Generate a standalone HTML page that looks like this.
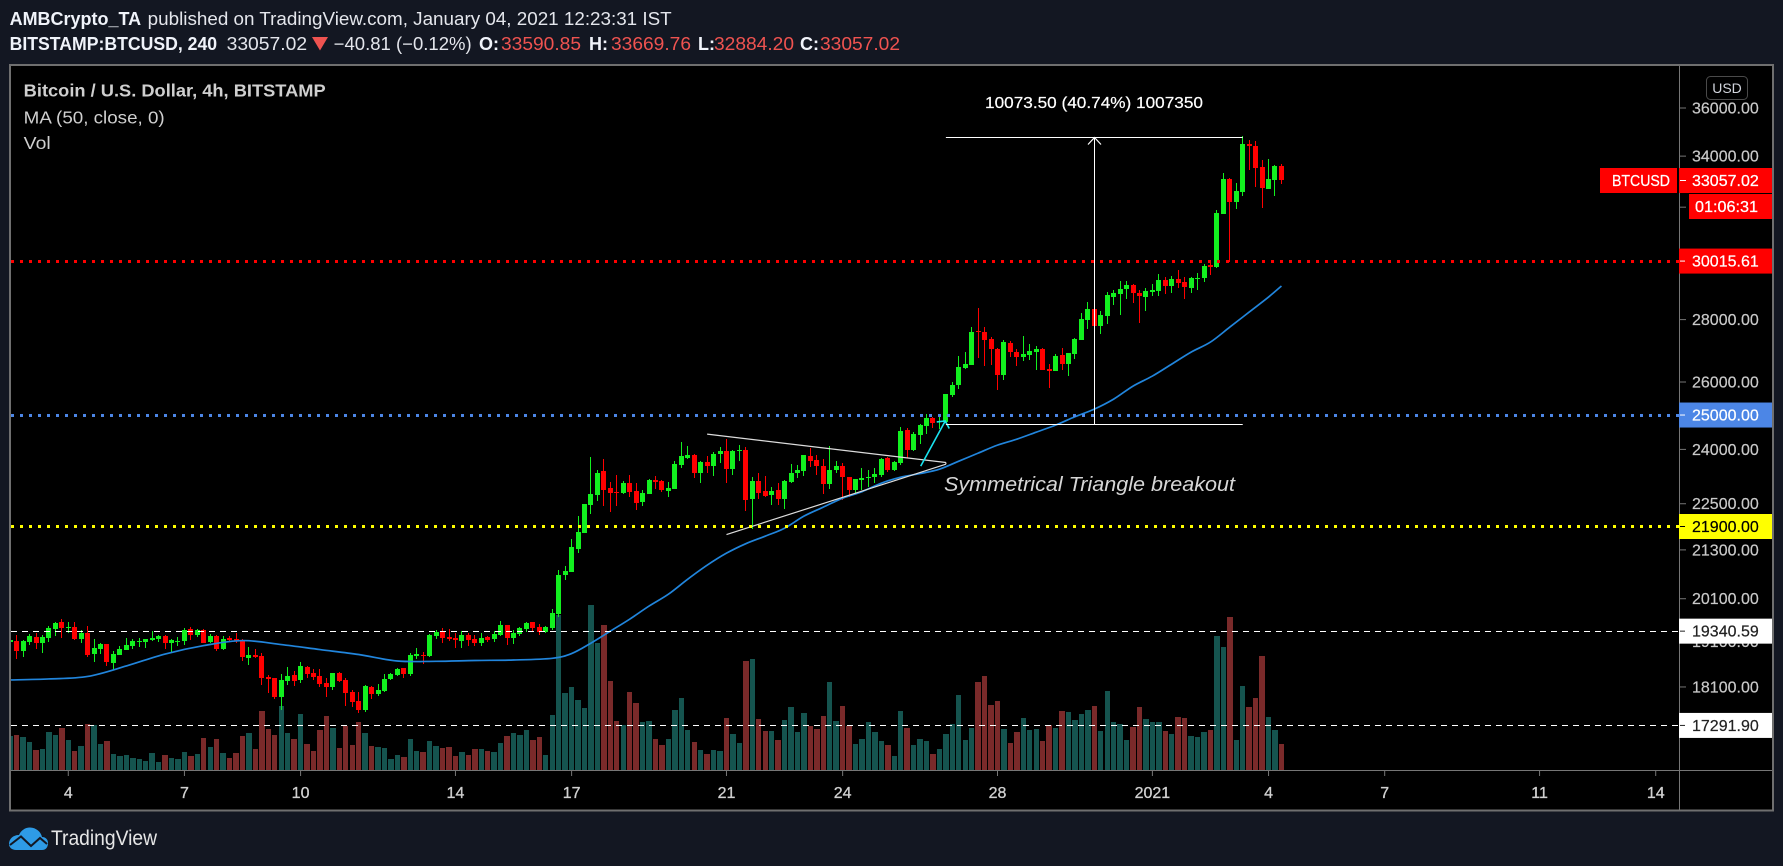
<!DOCTYPE html>
<html lang="en">
<head>
<meta charset="utf-8">
<title>BTCUSD chart</title>
<style>
html,body{margin:0;padding:0;background:#131722;width:1783px;height:866px;overflow:hidden}
svg{display:block}
text{font-family:"Liberation Sans",sans-serif}
</style>
</head>
<body>
<svg id="root" xmlns="http://www.w3.org/2000/svg" width="1783" height="866" viewBox="0 0 1783 866">
  <defs>
    <clipPath id="plot-clip"><rect x="11" y="66" width="1668" height="704"/></clipPath>
  </defs>
  <rect x="0" y="0" width="1783" height="866" fill="#131722"/>
  <g font-size="18" fill="#f0f3fa">
    <text x="9.6" y="25" font-weight="bold" textLength="131.5" lengthAdjust="spacingAndGlyphs">AMBCrypto_TA</text>
    <text x="147.7" y="25" fill="#e4e6ec" textLength="524" lengthAdjust="spacingAndGlyphs">published on TradingView.com, January 04, 2021 12:23:31 IST</text>
    <text x="9.6" y="50" font-weight="bold" textLength="207.5" lengthAdjust="spacingAndGlyphs">BITSTAMP:BTCUSD, 240</text>
    <text x="226.6" y="50" fill="#e4e6ec" textLength="80.5" lengthAdjust="spacingAndGlyphs">33057.02</text>
    <polygon points="312,37 328,37 320,50.5" fill="#ef5350"/>
    <text x="333.7" y="50" fill="#e4e6ec" textLength="138" lengthAdjust="spacingAndGlyphs">−40.81 (−0.12%)</text>
    <text x="479" y="50" font-weight="bold">O:</text>
    <text x="501" y="50" fill="#ef5350" textLength="80" lengthAdjust="spacingAndGlyphs">33590.85</text>
    <text x="589" y="50" font-weight="bold">H:</text>
    <text x="611" y="50" fill="#ef5350" textLength="80" lengthAdjust="spacingAndGlyphs">33669.76</text>
    <text x="698" y="50" font-weight="bold">L:</text>
    <text x="714" y="50" fill="#ef5350" textLength="80" lengthAdjust="spacingAndGlyphs">32884.20</text>
    <text x="800" y="50" font-weight="bold">C:</text>
    <text x="820" y="50" fill="#ef5350" textLength="80" lengthAdjust="spacingAndGlyphs">33057.02</text>
  </g>
  <rect x="10" y="65" width="1763" height="745.5" fill="#000" stroke="#6f6f6f" stroke-width="2"/>
  <g id="volume-layer" clip-path="url(#plot-clip)" shape-rendering="crispEdges"></g>
  <g id="candle-layer" clip-path="url(#plot-clip)" shape-rendering="crispEdges"></g>
  <path id="ma-line" fill="none" stroke="#2185dc" stroke-width="1.7" stroke-linejoin="round" clip-path="url(#plot-clip)"/>
  <g id="annotation-layer"></g>
  <line x1="1679.5" y1="66" x2="1679.5" y2="810" stroke="#767676" stroke-width="1"/>
  <line x1="11" y1="770.5" x2="1772" y2="770.5" stroke="#767676" stroke-width="1"/>
  <g id="price-axis"></g>
  <g id="time-axis"></g>
  <g id="price-lines"></g>
  <g font-size="16" fill="#fff" stroke="#fff" stroke-width="0.25">
    <rect x="1600" y="168" width="77" height="25" fill="#ff0000" stroke="none"/>
    <text x="1612" y="186" textLength="58" lengthAdjust="spacingAndGlyphs">BTCUSD</text>
    <rect x="1679" y="168" width="93" height="25" fill="#ff0000" stroke="none"/>
    <line x1="1680" y1="180.5" x2="1686" y2="180.5" stroke="#fff" stroke-width="1"/>
    <text x="1692" y="186">33057.02</text>
    <rect x="1689" y="194" width="83" height="25" fill="#ff0000" stroke="none"/>
    <text x="1695" y="212" textLength="63" lengthAdjust="spacingAndGlyphs">01:06:31</text>
  </g>
  <g>
    <rect x="1706.5" y="76.5" width="41" height="23" rx="4" fill="#000" stroke="#4a4a4a"/>
    <text x="1727" y="93" font-size="14" fill="#d1d4dc" text-anchor="middle">USD</text>
  </g>
  <g fill="#cfcfcf" font-size="17.5">
    <text x="23.7" y="96.7" font-weight="bold" textLength="302" lengthAdjust="spacingAndGlyphs">Bitcoin / U.S. Dollar, 4h, BITSTAMP</text>
    <text x="23.7" y="123.3" textLength="141" lengthAdjust="spacingAndGlyphs">MA (50, close, 0)</text>
    <text x="23.7" y="149" textLength="27" lengthAdjust="spacingAndGlyphs">Vol</text>
  </g>
  <g>
    <path d="M15 850h27c4 0 6-3 6-7 0-3-2-6-6-6-1-5-6-9.500-12-9.500-5 0-9 3-11 7.500-6 0-10 4-10 9 0 3.500 3 6 7 6z" fill="#2e9be6"/>
    <path d="M10 845L21 836.500L31 846L40 838L47 844" fill="none" stroke="#131722" stroke-width="2"/>
    <text x="51" y="845" font-size="21" fill="#e6e6e6" textLength="106" lengthAdjust="spacingAndGlyphs">TradingView</text>
  </g>
</svg>
<script>
const opens=[19094,19109,18891,19094,19208,19071,19185,19391,19553,19414,
19437,19162,19299,18824,18936,19049,18624,18802,18913,19004,
19086,19094,19139,19162,19231,19071,19094,19116,19391,19253,
19368,19094,19231,18936,19185,19162,19139,18735,18802,18779,
18316,18295,17886,18230,18360,18251,18536,18404,18338,18186,
18100,18404,18251,17993,17801,17612,18100,17950,18014,18273,
18360,18514,18382,18779,18802,18779,19231,19322,19208,19185,
19116,19253,19162,19071,19208,19162,19253,19484,19185,19276,
19391,19553,19437,19322,19414,19733,20669,20743,21317,21727,
22462,22731,23387,22921,22812,22785,23057,22839,22542,22758,
23139,23112,22839,22893,23556,23752,23837,23332,23640,23527,
23865,23950,23443,23950,23979,22623,23112,22839,22731,22866,
22623,23084,23332,23387,23809,23695,23527,23030,23415,23527,
23222,22866,23139,23194,23222,23277,23752,23415,23611,24555,
23979,24409,24673,24909,24790,24790,25599,25905,26433,26527,
27621,27589,27360,27036,26214,27230,26940,26781,26845,26940,
27036,26401,26339,26845,26559,26877,27327,27985,28353,27786,
28119,28760,28863,29035,29174,28897,28760,28932,28966,29347,
29139,29382,29277,29070,29382,29417,29875,29804,31742,33089,
32197,32582,34495,34413,33563,32698,33050,33590.85];
const highs=[19139,19253,19139,19276,19299,19253,19461,19553,19622,19553,
19553,19368,19461,19162,19071,19049,18891,19004,19185,19162,
19185,19162,19345,19253,19253,19162,19208,19414,19437,19391,
19391,19276,19253,19231,19231,19299,19162,18981,18936,18846,
18360,18295,18382,18536,18447,18646,18558,18491,18491,18295,
18404,18425,18295,18035,17993,18143,18122,18165,18382,18404,
18514,18514,18846,18958,18868,19276,19368,19414,19391,19299,
19345,19299,19253,19299,19231,19345,19576,19484,19368,19437,
19553,19553,19507,19461,19857,20792,20890,21573,22170,22489,
23780,23415,23723,23084,23277,23112,23277,23057,22866,23167,
23250,23139,23084,23667,24208,24093,23865,23667,23809,23922,
24065,24294,23979,24122,24065,23222,23332,23250,22948,23057,
23139,23583,23555,23837,24036,23837,23723,24093,23667,23611,
23222,23167,23471,23415,23471,23752,23780,23667,24652,24624,
24497,24732,25027,24939,24998,25629,25997,26813,26940,27753,
28387,27753,27425,27069,27327,27295,27036,27458,27197,27133,
27069,26559,26877,27069,26908,27392,28219,28590,28556,28286,
28932,29000,29312,29312,29207,29000,29070,29207,29558,29453,
29487,29698,29453,29453,29593,29911,29947,31892,33325,33128,
32932,34810,34658,34617,33844,33884,33643,33669.76];
const lows=[19094,18712,18765,19026,18936,18846,19094,19231,19185,19299,
19139,19071,18757,18646,18824,18558,18469,18802,18913,18936,
18981,18958,19116,19094,18936,18846,19004,19026,19139,19208,
19071,19071,18891,18913,19116,19071,18668,18580,18735,18143,
17971,17844,17612,18143,18122,18186,18295,18251,18100,17886,
18035,18208,17696,17675,17550,17570,17844,17907,17993,18251,
18338,18295,18338,18712,18602,18757,19162,19071,19116,18958,
18958,19004,19004,19004,19094,19094,19231,19026,19049,19231,
19322,19322,19253,19299,19368,19662,20547,20743,21216,21727,
22223,22569,22436,22276,22436,22758,22677,22329,22436,22758,
22893,22812,22677,22893,23471,23723,23194,23057,23332,23250,
23611,23057,23277,23667,22303,21830,22623,22677,22462,22462,
22356,23057,23194,23250,23499,23277,22758,22893,23332,22596,
22677,22785,22866,22948,23057,23222,23360,23387,23555,23752,
23950,24151,24439,24614,24584,24751,25538,25782,26401,26527,
26749,26496,26527,25751,26059,26781,26496,26654,26685,26370,
26370,25813,26339,26370,26183,26717,27327,27687,27295,27523,
27852,28489,28152,28692,28556,27886,28286,28795,28795,28863,
28897,29070,28692,28897,29000,29277,29522,29768,31742,29982,
31930,32428,33444,32775,31968,32698,32428,32884.20];
const closes=[19139,18898,19116,19231,19071,19208,19414,19530,19414,19437,
19162,19299,18802,18958,19049,18646,18824,18936,19026,19116,
19109,19162,19185,19231,19071,19139,19116,19368,19253,19368,
19071,19231,18936,19162,19139,19116,18757,18802,18757,18295,
18273,17886,18251,18338,18230,18558,18382,18316,18165,18100,
18404,18230,17971,17780,17612,18122,17950,18035,18273,18382,
18491,18382,18802,18824,18779,19253,19322,19185,19162,19139,
19253,19139,19071,19185,19139,19276,19484,19185,19299,19414,
19530,19414,19322,19437,19763,20669,20767,21368,21752,22489,
22758,23332,22866,22785,22785,23057,22812,22516,22785,23139,
23084,22866,22921,23583,23809,23837,23332,23640,23527,23865,
23950,23443,23950,23979,22596,23112,22785,22704,22839,22623,
23112,23332,23415,23837,23667,23527,23030,23415,23527,23222,
22866,23167,23194,23222,23304,23723,23415,23640,24526,23979,
24439,24702,24909,24761,24819,25629,25905,26465,26559,27589,
27589,27327,27036,26214,27262,26940,26781,26877,26972,27036,
26370,26339,26813,26559,26908,27360,28018,28353,27786,28152,
28829,28897,29035,29174,28897,28795,28966,29000,29347,29139,
29382,29243,29104,29417,29417,29841,29804,31778,33089,32197,
32620,34495,34413,33523,32736,33089,33603,33057.02];
const volumes=[1020,1050,990,840,600,630,1140,1050,1260,900,
570,720,1380,1350,780,870,480,420,450,360,
330,270,510,240,450,360,330,540,420,480,
960,690,930,510,360,510,1020,1110,630,1770,
1230,1050,1920,1110,930,1680,780,570,1200,1620,
1260,660,1320,750,1440,1110,720,690,660,330,
450,390,930,570,540,870,720,660,690,420,
540,450,630,630,570,540,810,1020,1110,1050,
1200,900,990,450,1650,4650,2310,2490,2100,1860,
4950,3810,4350,2670,1470,1350,2340,2010,1440,1470,
930,750,930,1800,2160,1200,840,600,480,600,
570,1560,1080,810,3270,3330,1530,1170,1170,900,
1500,1890,1140,1710,1320,1230,1620,2640,1470,1920,
1320,780,930,1440,1140,870,750,420,1770,1260,
750,930,870,480,630,1080,1380,2250,900,1260,
2640,2820,1950,2070,1230,810,1140,1560,1200,1230,
870,1350,1260,1770,1740,1500,1680,1800,1920,1170,
2370,1440,1380,900,1290,1890,1530,1440,1440,1170,
1080,1590,1560,1020,990,1140,1200,4020,3690,4590,
900,2520,1890,2160,3420,1590,1200,780];
const maBars=[0,6,12,18,24,30,36,42,48,54,60,66,72,78,84,87,90,93,96,99,102,105,108,111,114,117,120,123,126,129,132,135,138,141,144,147,150,153,156,159,162,165,168,171,174,177,180,183,186,189,192,195,197];
const maValues=[18251,18273,18327,18557,18822,19012,19125,19035,18922,18811,18667,18660,18678,18689,18727,18833,19068,19341,19618,19925,20208,20572,20916,21217,21458,21650,21856,22171,22409,22650,22825,23057,23222,23320,23443,23667,23894,24122,24294,24497,24702,24949,25176,25477,25874,26184,26559,26940,27262,27752,28252,28761,29139];
const priceTicks=[36000,34000,32000,30000,28000,26000,24000,22500,21300,20100,19100,18100];
const timeTickBars=[9,27,45,69,87,111,129,153,177,195,213,237,255];
const timeTickLabels=['4','7','10','14','17','21','24','28','2021','4','7','11','14'];
const linePrices=[30015.61,25000,21900,19340.59,17291.90];
const triangleUpperBars=[108,145];
const triangleUpperPrices=[24439,23630];
const triangleLowerBars=[111,145];
const triangleLowerPrices=[21692,23581];
const breakoutBars=[141.1,144.9];
const breakoutPrices=[23527,24825];
const measureBars=[145,168,191];
const measurePrices=[24722,34795];

const SVGNS='http://www.w3.org/2000/svg';
const GREEN='#12f01f',RED='#ff0000',TEAL='#15544f',MAROON='#7a2a2a';
function xOf(i){return 10.2+6.453*i;}
function yOf(p){return 108+842*Math.log(36000/p);}
function volY(v){return 770-v/30;}
function make(tag,parent,attrs){
  const el=document.createElementNS(SVGNS,tag);
  for(const k in attrs){el.setAttribute(k,attrs[k]);}
  parent.appendChild(el);
  return el;
}
const volumeLayer=document.getElementById('volume-layer');
const candleLayer=document.getElementById('candle-layer');
const annotationLayer=document.getElementById('annotation-layer');
const priceAxis=document.getElementById('price-axis');
const timeAxis=document.getElementById('time-axis');
const priceLinesLayer=document.getElementById('price-lines');

opens.forEach(function(o,i){
  const up=closes[i]>=o;
  const left=Math.round(xOf(i)-2.7);
  const right=Math.round(xOf(i)+2.7);
  const bar=make('rect',volumeLayer,{x:left,y:Math.round(volY(volumes[i])),width:right-left,height:770-Math.round(volY(volumes[i])),fill:up?TEAL:MAROON});
  
  
});
opens.forEach(function(o,i){
  const up=closes[i]>=o;
  const colour=up?GREEN:RED;
  const g=make('g',candleLayer,{});
  
  
  const left=Math.round(xOf(i)-2.5);
  const wick=make('rect',g,{x:left+2,y:Math.round(yOf(highs[i])),width:1,height:Math.max(1,Math.round(yOf(lows[i]))-Math.round(yOf(highs[i]))),fill:colour});
  
  
  const top=Math.round(yOf(Math.max(o,closes[i])));
  const bot=Math.round(yOf(Math.min(o,closes[i])));
  const body=make('rect',g,{x:left,y:top,width:5,height:Math.max(1,bot-top),fill:colour});
  
  
});
const maPts=maBars.map(function(b,i){return [xOf(b),yOf(maValues[i])];});
let maPath='M'+maPts[0][0]+' '+maPts[0][1];
for(let i=0;i<maPts.length-1;i++){
  const p0=maPts[Math.max(0,i-1)],p1=maPts[i],p2=maPts[i+1],p3=maPts[Math.min(maPts.length-1,i+2)];
  maPath+=' C'+(p1[0]+(p2[0]-p0[0])/6)+' '+(p1[1]+(p2[1]-p0[1])/6)+' '+(p2[0]-(p3[0]-p1[0])/6)+' '+(p2[1]-(p3[1]-p1[1])/6)+' '+p2[0]+' '+p2[1];
}
document.getElementById('ma-line').setAttribute('d',maPath);

const tri1=make('line',annotationLayer,{x1:xOf(triangleUpperBars[0]),y1:yOf(triangleUpperPrices[0]),x2:xOf(triangleUpperBars[1]),y2:yOf(triangleUpperPrices[1]),stroke:'#dcdcdc','stroke-width':1.2});


const tri2=make('line',annotationLayer,{x1:xOf(triangleLowerBars[0]),y1:yOf(triangleLowerPrices[0]),x2:xOf(triangleLowerBars[1]),y2:yOf(triangleLowerPrices[1]),stroke:'#dcdcdc','stroke-width':1.2});


const tri3=make('line',annotationLayer,{x1:xOf(triangleUpperBars[1]),y1:yOf(triangleUpperPrices[1]),x2:xOf(triangleLowerBars[1]),y2:yOf(triangleLowerPrices[1]),stroke:'#dcdcdc','stroke-width':1.2});



const bx1=xOf(breakoutBars[0]),by1=yOf(breakoutPrices[0]),bx2=xOf(breakoutBars[1]),by2=yOf(breakoutPrices[1]);
const breakout=make('line',annotationLayer,{x1:bx1,y1:by1,x2:bx2,y2:by2,stroke:'#19e3ef','stroke-width':1.6});


const breakoutHead=make('polyline',annotationLayer,{points:(bx2-8.5)+','+(by2+1)+' '+bx2+','+by2+' '+(bx2+4)+','+(by2+7.5),fill:'none',stroke:'#19e3ef','stroke-width':1.6});



const mTop=Math.round(yOf(measurePrices[1]))+0.5,mBot=Math.round(yOf(measurePrices[0]))+0.5,mMid=Math.round(xOf(measureBars[1]))+0.5;
const mTopLine=make('line',annotationLayer,{x1:xOf(measureBars[0]),y1:mTop,x2:xOf(measureBars[2]),y2:mTop,stroke:'#fff','stroke-width':1});


const mBotLine=make('line',annotationLayer,{x1:xOf(measureBars[0]),y1:mBot,x2:xOf(measureBars[2]),y2:mBot,stroke:'#fff','stroke-width':1});


const mShaft=make('line',annotationLayer,{x1:mMid,y1:mTop,x2:mMid,y2:mBot,stroke:'#fff','stroke-width':1});


const mHead=make('polyline',annotationLayer,{points:(mMid-6.5)+','+(mTop+7)+' '+mMid+','+mTop+' '+(mMid+6.5)+','+(mTop+7),fill:'none',stroke:'#fff','stroke-width':1.2});


const mLabel=make('text',annotationLayer,{x:985,y:108,'font-size':16,fill:'#fff',stroke:'#fff','stroke-width':0.2,textLength:218,lengthAdjust:'spacingAndGlyphs'});
mLabel.textContent='10073.50 (40.74%) 1007350';


const triLabel=make('text',annotationLayer,{x:944,y:491,'font-size':20.5,'font-style':'italic',fill:'#d6d6d6',textLength:291,lengthAdjust:'spacingAndGlyphs'});
triLabel.textContent='Symmetrical Triangle breakout';



priceTicks.forEach(function(p){
  const tick=make('line',priceAxis,{x1:1680,x2:1686,y1:yOf(p),y2:yOf(p),stroke:'#767676','stroke-width':1});
  
  
  const label=make('text',priceAxis,{x:1692,y:yOf(p)+5.5,'font-size':16,fill:'#c9c9c9',stroke:'#c9c9c9','stroke-width':0.2});
  label.textContent=p.toFixed(2);
  
  
});
timeTickBars.forEach(function(b,i){
  const tick=make('line',timeAxis,{x1:xOf(b),x2:xOf(b),y1:771,y2:776,stroke:'#767676','stroke-width':1});
  
  
  const label=make('text',timeAxis,{x:xOf(b),y:798,'font-size':16,'text-anchor':'middle',fill:'#d0d0d0',stroke:'#d0d0d0','stroke-width':0.3});
  label.textContent=timeTickLabels[i];
  
  
});
const lineColours=['#ff0000','#4c86e6','#ffff00','#ffffff','#ffffff'];
const lineDashes=['3 6','3 6','3 6','6 5','6 5'];
const lineWidths=[3,3,3,1,1];
const labelInks=['#ffffff','#ffffff','#000000','#222222','#222222'];
linePrices.forEach(function(p,i){
  const y=yOf(p);
  const snapped=Math.round(y-0.5)+0.5;
  const line=make('line',priceLinesLayer,{x1:11,x2:1679,y1:snapped,y2:snapped,stroke:lineColours[i],'stroke-width':lineWidths[i],'stroke-dasharray':lineDashes[i],'shape-rendering':'crispEdges'});
  
  
  const box=make('rect',priceLinesLayer,{x:1679,y:y-12.5,width:93,height:25,fill:lineColours[i]});
  
  
  const tick=make('line',priceLinesLayer,{x1:1680,x2:1685,y1:y,y2:y,stroke:labelInks[i],'stroke-width':1});
  
  
  const label=make('text',priceLinesLayer,{x:1692,y:y+5.5,'font-size':16,fill:labelInks[i],stroke:labelInks[i],'stroke-width':0.2});
  label.textContent=p.toFixed(2);
  
  
});
</script>
</body>
</html>
